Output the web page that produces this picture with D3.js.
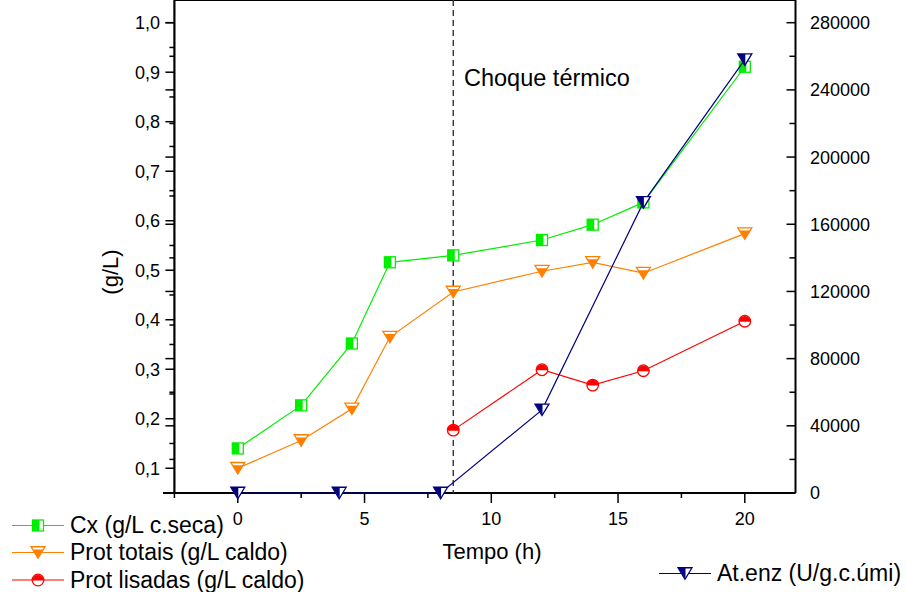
<!DOCTYPE html>
<html lang="pt">
<head>
    <meta charset="UTF-8">
    <title>Choque térmico</title>
    <script src="https://d3js.org/d3.v7.min.js"></script>
    <style>
        body { margin: 0; background: #fff; }
        text { font-family: "Liberation Sans", Arial, sans-serif; fill: #000; }
    </style>
</head>
<body>

<div id="chart"></div>

<script>
    // data
    var timeCx = [0, 2.5, 4.5, 6, 8.5, 12, 14, 16, 20];
    var cx = [0.140, 0.227, 0.352, 0.516, 0.530, 0.561, 0.592, 0.637, 0.911];
    var protTotais = [0.100, 0.156, 0.220, 0.365, 0.456, 0.498, 0.516, 0.494, 0.574];
    var timeLis = [8.5, 12, 14, 16, 20];
    var protLisadas = [0.177, 0.299, 0.268, 0.297, 0.397];
    var timeEnz = [0, 4, 8, 12, 16, 20];
    var atEnz = [0, 0, 0, 49500, 173000, 258000];
    var choqueTime = 8.5;

    var xTicks = [0, 5, 10, 15, 20];
    var yLeftTicks = [0.1, 0.2, 0.3, 0.4, 0.5, 0.6, 0.7, 0.8, 0.9, 1.0];
    var yRightTicks = [0, 40000, 80000, 120000, 160000, 200000, 240000, 280000];

    var width = 906, height = 592;
    var green = "#00ee00", orange = "#ff8000", red = "#ff0000", navy = "#000080";

    var svg = d3.select("#chart").append("svg")
        .attr("width", width)
        .attr("height", height);

    var x = d3.scaleLinear().domain([-2.95, 22]).range([163, 795.5]);
    var yL = d3.scaleLinear().domain([0.05, 1.0]).range([493, 22.7]);
    var yR = d3.scaleLinear().domain([0, 280000]).range([493, 22.7]);

    var left = x(-2.5), right = x(22), top = yL(1.0), bottom = yL(0.05);
    var fmt = function (v) { return d3.format(".1f")(v).replace(".", ","); };

    // frame
    var axes = svg.append("g").attr("stroke", "#000").attr("fill", "none");
    axes.append("line").attr("x1", left).attr("x2", right).attr("y1", top).attr("y2", top).attr("stroke-width", 2);
    axes.append("line").attr("x1", x.range()[0]).attr("x2", right).attr("y1", bottom).attr("y2", bottom).attr("stroke-width", 2);
    axes.append("line").attr("x1", left).attr("x2", left).attr("y1", top).attr("y2", bottom).attr("stroke-width", 2.2);
    axes.append("line").attr("x1", right).attr("x2", right).attr("y1", top).attr("y2", bottom).attr("stroke-width", 2);

    // left axis ticks (both layers show up here)
    d3.range(0.1, 1.001, 0.05).forEach(function (v, i) {
        var len = (i % 2 === 0) ? 9 : 5;
        axes.append("line").attr("x1", left - len).attr("x2", left)
            .attr("y1", yL(v)).attr("y2", yL(v)).attr("stroke-width", 1.5);
    });
    d3.range(20000, 280001, 20000).forEach(function (v, i) {
        var len = (i % 2 === 1) ? 9 : 5;
        axes.append("line").attr("x1", left - len).attr("x2", left)
            .attr("y1", yR(v)).attr("y2", yR(v)).attr("stroke-width", 1.5);
    });

    // right axis ticks point inward
    d3.range(0, 280001, 20000).forEach(function (v, i) {
        var len = (i % 2 === 0) ? 9 : 6;
        axes.append("line").attr("x1", right - len).attr("x2", right)
            .attr("y1", yR(v)).attr("y2", yR(v)).attr("stroke-width", 1.5);
    });

    // bottom ticks
    d3.range(-2.5, 20.01, 2.5).forEach(function (v, i) {
        var len = (i % 2 === 1) ? 10 : 5;
        axes.append("line").attr("x1", x(v)).attr("x2", x(v))
            .attr("y1", bottom).attr("y2", bottom + len).attr("stroke-width", 1.5);
    });

    // tick labels
    svg.selectAll(".ylabel").data(yLeftTicks).enter().append("text")
        .attr("x", 160).attr("y", function (d) { return yL(d); })
        .attr("dy", "0.36em").attr("text-anchor", "end")
        .style("font-size", "18px").text(fmt);

    svg.selectAll(".rlabel").data(yRightTicks).enter().append("text")
        .attr("x", 810).attr("y", function (d) { return yR(d); })
        .attr("dy", "0.36em")
        .style("font-size", "18px").text(function (d) { return d; });

    svg.selectAll(".xlabel").data(xTicks).enter().append("text")
        .attr("x", function (d) { return x(d); }).attr("y", 525)
        .attr("text-anchor", "middle")
        .style("font-size", "18px").text(function (d) { return d; });

    // axis titles
    svg.append("text").attr("transform", "translate(118,272) rotate(-90)")
        .attr("text-anchor", "middle").style("font-size", "22px").text("(g/L)");
    svg.append("text").attr("x", 492).attr("y", 559)
        .attr("text-anchor", "middle").style("font-size", "22px").text("Tempo (h)");

    // heat shock marker
    svg.append("line")
        .attr("x1", x(choqueTime)).attr("x2", x(choqueTime))
        .attr("y1", top).attr("y2", bottom)
        .attr("stroke", "#333").attr("stroke-width", 1.4).attr("stroke-dasharray", "6,4");
    svg.append("text").attr("x", 464).attr("y", 86)
        .style("font-size", "23.5px").text("Choque térmico");

    // marker painters
    function square(g, c) {
        g.append("rect").attr("x", -5.5).attr("y", -5.5).attr("width", 11).attr("height", 11)
            .attr("fill", "#fff").attr("stroke", c).attr("stroke-width", 1.3);
        g.append("rect").attr("x", -5.5).attr("y", -5.5).attr("width", 7).attr("height", 11)
            .attr("fill", c);
    }
    function downTri(g, c, mode) {
        var w = 14, h = 11.5;
        g.append("path").attr("d", "M" + (-w / 2) + "," + (-h / 2) + "L" + (w / 2) + "," + (-h / 2) + "L0," + (h / 2) + "Z")
            .attr("fill", "#fff");
        if (mode === "bottom") {
            var k = 0.24 * h, hw = (w / 2) * (1 - k / h);
            g.append("path").attr("d", "M" + (-hw) + "," + (-h / 2 + k) + "L" + hw + "," + (-h / 2 + k) + "L0," + (h / 2) + "Z")
                .attr("fill", c);
        } else {
            g.append("path").attr("d", "M" + (-w / 2) + "," + (-h / 2) + "L0.5," + (-h / 2) + "L0.5," + (h / 2) + "Z")
                .attr("fill", c);
        }
        g.append("path").attr("d", "M" + (-w / 2) + "," + (-h / 2) + "L" + (w / 2) + "," + (-h / 2) + "L0," + (h / 2) + "Z")
            .attr("fill", "none").attr("stroke", c).attr("stroke-width", 1.3).attr("stroke-linejoin", "miter");
    }
    function halfCircle(g, c) {
        var r = 5.8;
        g.append("circle").attr("r", r).attr("fill", "#fff").attr("stroke", c).attr("stroke-width", 1.3);
        g.append("path").attr("d", "M" + (-r) + ",0.5A" + r + "," + r + " 0 0 1 " + r + ",0.5Z").attr("fill", c);
    }

    function drawSeries(xs, ys, yScale, color, painter) {
        var pts = xs.map(function (t, i) { return [x(t), yScale(ys[i])]; });
        svg.append("path").attr("d", d3.line()(pts))
            .attr("fill", "none").attr("stroke", color).attr("stroke-width", 1.2);
        pts.forEach(function (p) {
            painter(svg.append("g").attr("transform", "translate(" + p[0] + "," + p[1] + ")"), color);
        });
    }

    drawSeries(timeCx, cx, yL, green, square);
    drawSeries(timeCx, protTotais, yL, orange, function (g, c) { downTri(g, c, "bottom"); });
    drawSeries(timeLis, protLisadas, yL, red, halfCircle);
    drawSeries(timeEnz, atEnz, yR, navy, function (g, c) { downTri(g, c, "left"); });

    // legends
    var legend = [
        { label: "Cx (g/L c.seca)", color: green, paint: square, x: 12, y: 525.5 },
        { label: "Prot totais (g/L caldo)", color: orange, paint: function (g, c) { downTri(g, c, "bottom"); }, x: 12, y: 552.5 },
        { label: "Prot lisadas (g/L caldo)", color: red, paint: halfCircle, x: 12, y: 580 },
        { label: "At.enz (U/g.c.úmi)", color: navy, paint: function (g, c) { downTri(g, c, "left"); }, x: 659, y: 573.5 }
    ];
    legend.forEach(function (d) {
        svg.append("line").attr("x1", d.x).attr("x2", d.x + 52).attr("y1", d.y).attr("y2", d.y)
            .attr("stroke", d.color).attr("stroke-width", 1.2);
        d.paint(svg.append("g").attr("transform", "translate(" + (d.x + 26) + "," + d.y + ")"), d.color);
        svg.append("text").attr("x", d.x + 58).attr("y", d.y + 7.5)
            .style("font-size", "23px").text(d.label);
    });
</script>

</body>
</html>
